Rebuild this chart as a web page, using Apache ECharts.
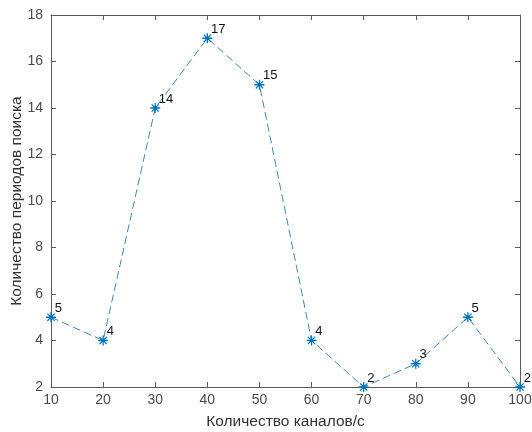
<!DOCTYPE html>
<html><head><meta charset="utf-8">
<script src="https://cdn.jsdelivr.net/npm/echarts@6/dist/echarts.min.js"></script>
<style>html,body{margin:0;padding:0;background:#fff}#c{width:532px;height:432px}</style>
</head><body><div id="c"></div>
<script>
var channels = [10, 20, 30, 40, 50, 60, 70, 80, 90, 100];
var periods = [5, 4, 14, 17, 15, 4, 2, 3, 5, 2];
var xTicks = [10, 20, 30, 40, 50, 60, 70, 80, 90, 100];
var yTicks = [2, 4, 6, 8, 10, 12, 14, 16, 18];
var xTitle = 'Количество каналов/с';
var yTitle = 'Количество периодов поиска';

var font = 'Liberation Sans, Arial, sans-serif';
var axisCol = '#5a5a5a';
var chart = echarts.init(document.getElementById('c'));
var star = 'path://M0,-5L0,5M-5,0L5,0M-3.6,-3.6L3.6,3.6M-3.6,3.6L3.6,-3.6';
function baseAxis(extra){
  return Object.assign({
    type:'value',
    axisLine:{show:true,onZero:false,lineStyle:{color:axisCol,width:1}},
    axisTick:{show:true,inside:true,length:5,lineStyle:{color:axisCol}},
    splitLine:{show:false},
    axisLabel:{color:'#4a4a4a',fontSize:14,fontFamily:font}
  }, extra);
}
chart.setOption({
  animation:false,
  grid:{left:51,right:12,top:15,bottom:45,containLabel:false,outerBoundsMode:'none'},
  xAxis:[
    baseAxis({min:xTicks[0],max:xTicks[xTicks.length-1],interval:10,position:'bottom',
      name:xTitle,nameLocation:'middle',nameGap:27,nameMoveOverlap:false,
      nameTextStyle:{color:'#333',fontSize:15.5,fontFamily:font},
      axisLabel:{color:'#4a4a4a',fontSize:14,fontFamily:font,margin:6}}),
    baseAxis({min:xTicks[0],max:xTicks[xTicks.length-1],interval:10,position:'top',axisLabel:{show:false}})
  ],
  yAxis:[
    baseAxis({min:yTicks[0],max:yTicks[yTicks.length-1],interval:2,position:'left',
      name:yTitle,nameLocation:'middle',nameGap:26,nameMoveOverlap:false,
      nameTextStyle:{color:'#333',fontSize:15.5,fontFamily:font},
      axisLabel:{color:'#4a4a4a',fontSize:14,fontFamily:font,margin:8}}),
    baseAxis({min:yTicks[0],max:yTicks[yTicks.length-1],interval:2,position:'right',axisLabel:{show:false}})
  ],
  series:[{
    type:'line',
    data:channels.map(function(c,i){return [c,periods[i]];}),
    symbol:star,symbolSize:10,
    showAllSymbol:true,
    lineStyle:{color:'#3a88bb',width:1,type:[8,4]},
    itemStyle:{color:'#0072BD',borderColor:'#0072BD',borderWidth:1.3},
    label:{show:true,position:'right',distance:0,offset:[-2,-9],color:'#111',fontSize:13,fontFamily:font,
      formatter:function(p){return String(p.value[1]);}}
  }]
});
</script></body></html>
